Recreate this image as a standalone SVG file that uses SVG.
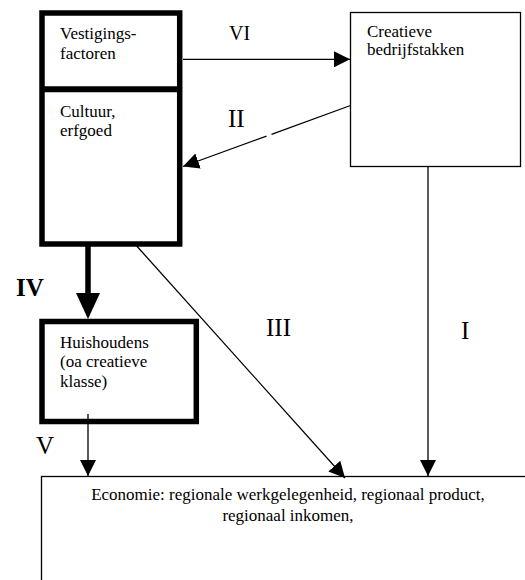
<svg xmlns="http://www.w3.org/2000/svg" width="525" height="580" viewBox="0 0 525 580">
<style>
text{font-family:"Liberation Serif","Times New Roman",serif;fill:#000}
.t{font-size:17px}
.n{font-size:20px}
.nb{font-size:25px}
.thick{fill:#fff;stroke:#000;stroke-width:5.5}
.thin{fill:#fff;stroke:#000;stroke-width:1.3}
.c{stroke:#000;stroke-width:1.3;fill:none}
</style>
<defs>
<marker id="ah" markerUnits="userSpaceOnUse" viewBox="0 0 16 16" markerWidth="16" markerHeight="16" refX="16" refY="8" orient="auto"><path d="M0,0L16,8L0,16z" fill="#000"/></marker>
<marker id="ahb" markerUnits="userSpaceOnUse" viewBox="0 0 26 24" markerWidth="26" markerHeight="24" refX="0" refY="12" orient="auto"><path d="M0,0L26,12L0,24z" fill="#000"/></marker>
</defs>
<g id="economie">
<rect class="thin" x="41.5" y="476.5" width="520" height="200"/>
<text class="t" x="288" y="500" text-anchor="middle">Economie: regionale werkgelegenheid, regionaal product,</text>
<text class="t" x="288" y="520.5" text-anchor="middle">regionaal inkomen,</text>
</g>
<g id="vestigingsfactoren-cultuur">
<rect class="thick" x="42" y="13" width="137.7" height="231"/>
<line x1="42" y1="89.3" x2="179.7" y2="89.3" stroke="#000" stroke-width="6"/>
<text class="t" x="60" y="39">Vestigings-</text>
<text class="t" x="60" y="59">factoren</text>
<text class="t" x="60" y="116.5">Cultuur,</text>
<text class="t" x="60" y="135.5">erfgoed</text>
</g>
<g id="creatieve-bedrijfstakken">
<rect class="thin" x="350.5" y="12.5" width="170" height="154"/>
<text class="t" x="367" y="36.7">Creatieve</text>
<text class="t" x="367" y="55">bedrijfstakken</text>
</g>
<g id="huishoudens">
<rect class="thick" x="42" y="321.5" width="154.3" height="100"/>
<text class="t" x="60" y="348.3">Huishoudens</text>
<text class="t" x="60" y="367.3">(oa creatieve</text>
<text class="t" x="60" y="386.5">klasse)</text>
</g>
<g id="connectors">
<line class="c" x1="183" y1="59.3" x2="350" y2="59.3" marker-end="url(#ah)"/>
<path class="c" d="M350.5,105.5L271.5,134.3M266.5,136.1L183,166.5" marker-end="url(#ah)"/>
<line x1="88" y1="246" x2="88" y2="293" stroke="#000" stroke-width="5.5" marker-end="url(#ahb)"/>
<line class="c" x1="88" y1="414" x2="88" y2="476" marker-end="url(#ah)"/>
<line class="c" x1="136.7" y1="246" x2="345" y2="478" stroke-width="1.1" marker-end="url(#ah)"/>
<line class="c" x1="428" y1="167" x2="428" y2="476" marker-end="url(#ah)"/>
<text class="n" x="229" y="40">VI</text>
<text class="nb" x="228" y="127">II</text>
<text class="nb" x="16" y="296" font-weight="bold" font-size="24">IV</text>
<text class="nb" x="266" y="335.5">III</text>
<text class="nb" x="461" y="339.3">I</text>
<text class="nb" x="36" y="454" font-size="22">V</text>
</g>
</svg>
